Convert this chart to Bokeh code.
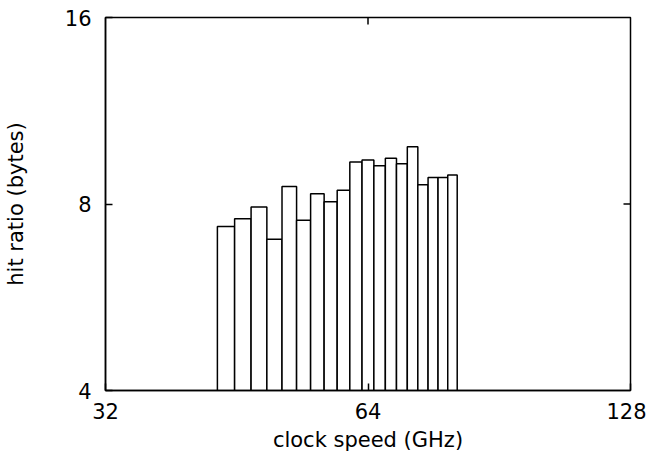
import math
from bokeh.plotting import figure
from bokeh.models import Range1d, FixedTicker, PrintfTickFormatter
from bokeh.embed import file_html
from bokeh.resources import INLINE

# data
clock_centers = [44, 46, 48, 50, 52, 54, 56, 58, 60, 62, 64, 66, 68, 70, 72, 74, 76, 78, 80]
bin_width = 2
hit_ratio = [7.36, 7.57, 7.91, 7.02, 8.54, 7.53, 8.31, 8.07, 8.42, 9.35,
             9.42, 9.22, 9.48, 9.29, 9.90, 8.59, 8.83, 8.83, 8.91]
x_ticks = [32, 64, 128]
y_ticks = [4, 8, 16]
x_label = "clock speed (GHz)"
y_label = "hit ratio (bytes)"

FONT = "DejaVu Sans"
FS = "21px"
TICK = 7

p = figure(width=646, height=458, x_axis_type="log", y_axis_type="log",
           x_range=Range1d(x_ticks[0], x_ticks[-1]), y_range=Range1d(y_ticks[0], y_ticks[-1]),
           output_backend="svg", toolbar_location=None,
           min_border_left=102, min_border_top=17, min_border_right=16, min_border_bottom=68)
p.xgrid.visible = False
p.ygrid.visible = False
p.outline_line_color = "black"
p.outline_line_width = 1.5
p.background_fill_color = "white"
p.border_fill_color = "white"

lefts = [c - bin_width / 2 for c in clock_centers]
rights = [c + bin_width / 2 for c in clock_centers]
bottoms = [y_ticks[0]] * len(clock_centers)
p.quad(left=lefts, right=rights, bottom=bottoms, top=hit_ratio,
       fill_color="white", line_color="black", line_width=1.5)

# mirrored inward ticks on the top and right edges
inner_x = x_ticks[1:-1]
inner_y = y_ticks[1:-1]
p.ray(x=inner_x, y=[y_ticks[-1]] * len(inner_x), length=TICK, length_units="screen",
      angle=-math.pi / 2, line_color="black", line_width=1.5)
p.ray(x=[x_ticks[-1]] * len(inner_y), y=inner_y, length=TICK, length_units="screen",
      angle=math.pi, line_color="black", line_width=1.5)

def style(ax, ticks):
    ax.ticker = FixedTicker(ticks=ticks)
    ax.formatter = PrintfTickFormatter(format="%d")
    ax.minor_tick_line_color = None
    ax.major_tick_in = TICK
    ax.major_tick_out = 0
    ax.major_tick_line_color = "black"
    ax.major_tick_line_width = 1.5
    ax.axis_line_color = "black"
    ax.axis_line_width = 1.5
    ax.major_label_text_font = FONT
    ax.major_label_text_font_size = FS
    ax.major_label_text_color = "black"
    ax.axis_label_text_font = FONT
    ax.axis_label_text_font_size = FS
    ax.axis_label_text_font_style = "normal"
    ax.axis_label_text_color = "black"

xa = p.xaxis[0]
style(xa, x_ticks)
xa.axis_label = x_label
xa.major_label_standoff = 12
xa.axis_label_standoff = 6

ya = p.yaxis[0]
style(ya, y_ticks)
ya.axis_label = y_label
ya.major_label_standoff = 14
ya.axis_label_standoff = 34

open("out.html", "w").write(file_html(p, INLINE))
